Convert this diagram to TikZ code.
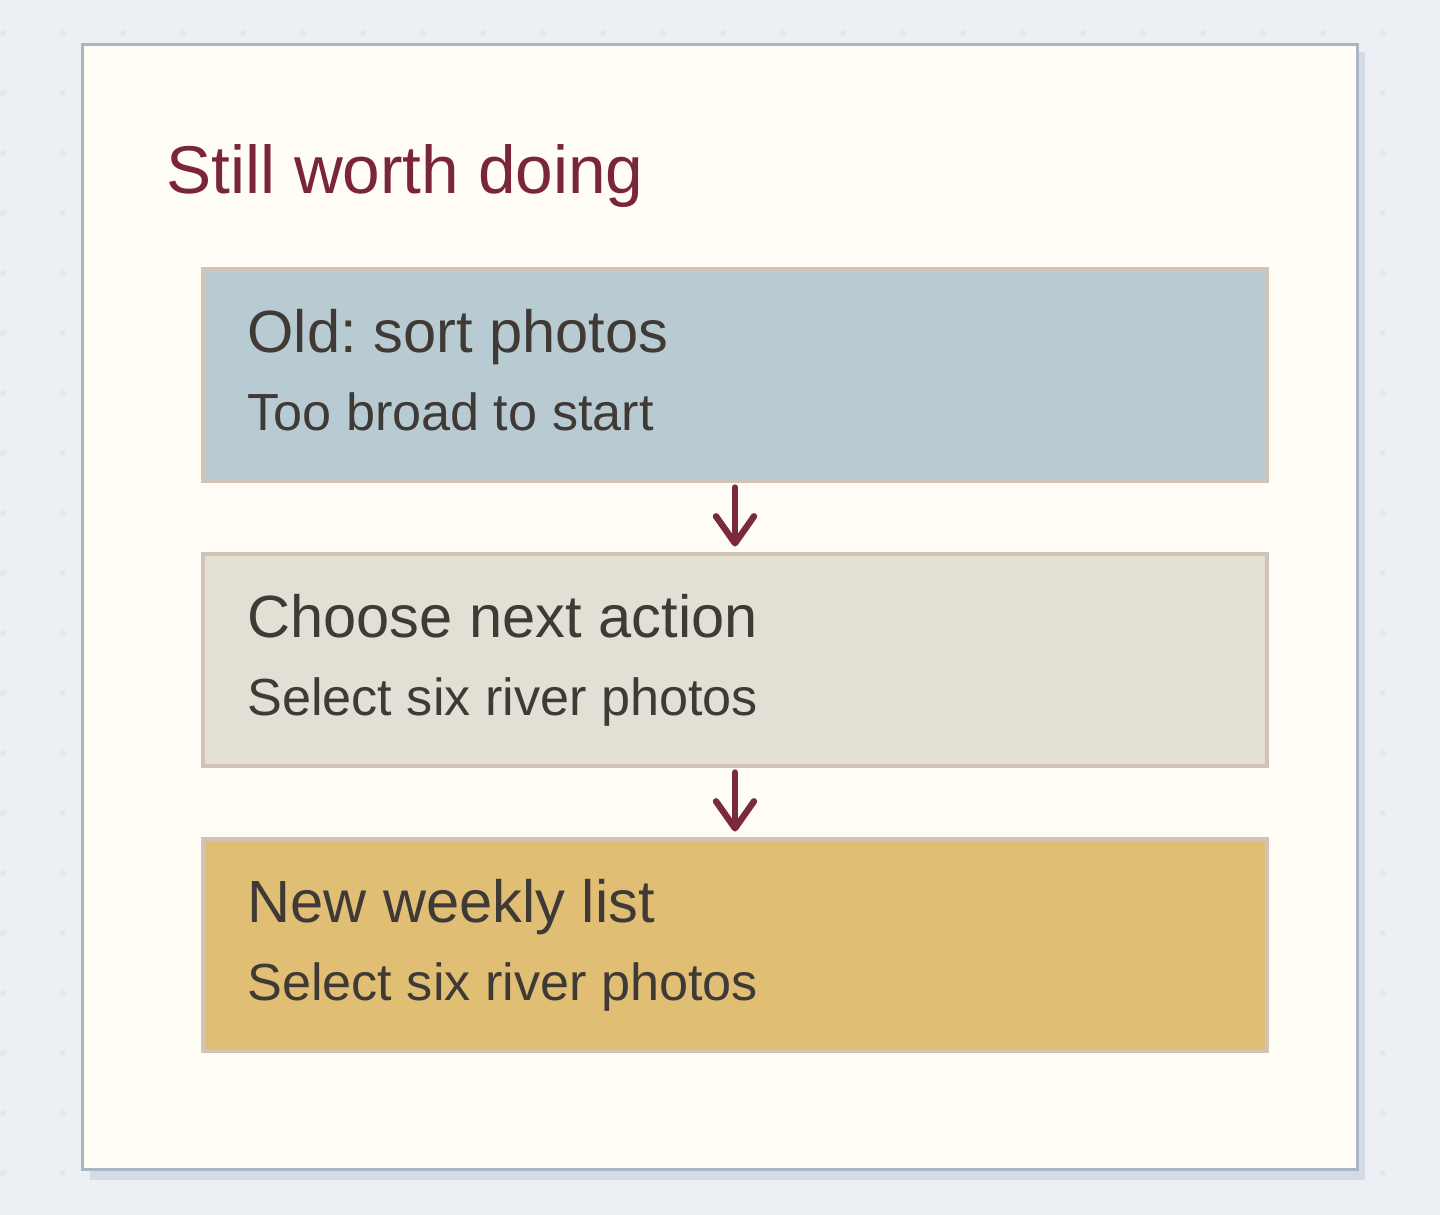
\documentclass[tikz,border=0pt]{standalone}
\usepackage{fontspec}
\setmainfont{Liberation Sans}
\usetikzlibrary{arrows.meta,positioning}

\definecolor{pagebg}{HTML}{ECF0F5}
\definecolor{griddot}{HTML}{E2E7EE}
\definecolor{panelfill}{HTML}{FFFDF6}
\definecolor{paneledge}{HTML}{A9B6C4}
\definecolor{panelshade}{HTML}{D3DBE4}
\definecolor{titlered}{HTML}{7B2636}
\definecolor{boxedge}{HTML}{D1C3B5}
\definecolor{oldfill}{HTML}{B8CBD3}
\definecolor{choosefill}{HTML}{E3DFD5}
\definecolor{weeklyfill}{HTML}{E0BE74}
\definecolor{inktext}{HTML}{3F3A35}
\definecolor{arrowred}{HTML}{7B2A3E}

\begin{document}
\frenchspacing
\begin{tikzpicture}[x=0.5pt,y=-0.5pt,
    step box/.style={draw=boxedge, line width=2pt, minimum width=532pt, minimum height=106pt, inner sep=0pt},
    head text/.style={anchor=base west, inner sep=0pt, font=\fontsize{29.8}{36}\selectfont, text=inktext},
    sub text/.style={anchor=base west, inner sep=0pt, font=\fontsize{26.1}{32}\selectfont, text=inktext},
    flow arrow/.style={-{Straight Barb[length=13.5pt, width=19pt, line cap=round, line join=round]}, draw=arrowred, line width=3.2pt, line cap=round, shorten <=2.5pt, shorten >=2.5pt}]

                    % page and dotted grid
                    \fill[pagebg] (0,0) rectangle (1440,1215);
                    \useasboundingbox (0,0) rectangle (1440,1215);
                    \foreach \gx in {3,63,...,1443}
                      \foreach \gy in {33,93,...,1215}
                        \fill[griddot] (\gx,\gy) circle (3);

                    % panel
                    \fill[panelshade] (90,52) rectangle (1365,1180);
                    \draw[draw=paneledge, fill=panelfill, line width=1.5pt] (82,44) rectangle (1357,1169);
                    \node[anchor=base west, inner sep=0pt, font=\fontsize{33.8}{40}\selectfont, text=titlered] (title) at (166,193) {Still worth doing};

                    % steps
                    \node[step box, fill=oldfill] (old) at (735,374.5) {};
                    \node[step box, fill=choosefill] (choose) at (735,659.5) {};
                    \node[step box, fill=weeklyfill] (weekly) at (735,944.5) {};

                    \node[head text] (oldhead) at ([xshift=23pt,yshift=-43pt]old.north west) {Old: sort photos};
                    \node[sub text] (oldsub) at ([yshift=-39pt]oldhead.base west) {Too broad to start};
                    \node[head text] (choosehead) at ([xshift=23pt,yshift=-43pt]choose.north west) {Choose next action};
                    \node[sub text] (choosesub) at ([yshift=-39pt]choosehead.base west) {Select six river photos};
                    \node[head text] (weeklyhead) at ([xshift=23pt,yshift=-43pt]weekly.north west) {New weekly list};
                    \node[sub text] (weeklysub) at ([yshift=-39pt]weeklyhead.base west) {Select six river photos};

                    \draw[flow arrow] (old) to (choose);
                    \draw[flow arrow] (choose) to (weekly);
        
                    ;
                \end{tikzpicture}
\end{document}
